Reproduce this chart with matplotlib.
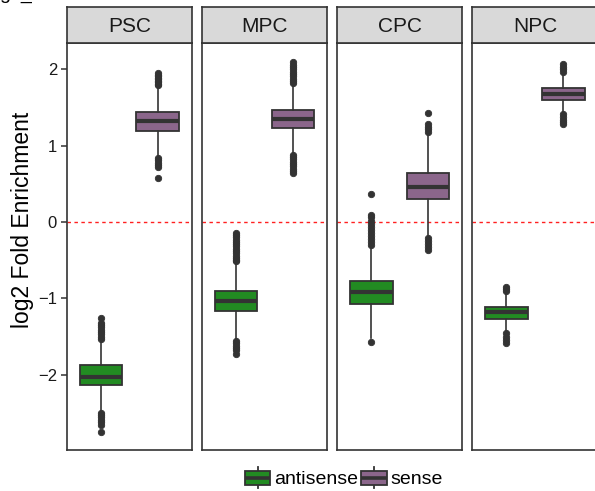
import matplotlib
matplotlib.use("Agg")
import matplotlib.pyplot as plt
from matplotlib.patches import Rectangle
from matplotlib.lines import Line2D
from matplotlib.legend_handler import HandlerBase

plt.rcParams['font.family'] = ['Liberation Sans', 'DejaVu Sans']

# ---------------- data ----------------
panels = ["PSC", "MPC", "CPC", "NPC"]
groups = ["antisense", "sense"]
group_colors = ["#228B22", "#8B668B"]

# box statistics per panel: [antisense, sense]
medians = [[-2.026, 1.324], [-1.029, 1.346], [-0.915, 0.457], [-1.180, 1.673]]
q1s     = [[-2.135, 1.193], [-1.168, 1.229], [-1.072, 0.300], [-1.264, 1.599]]
q3s     = [[-1.878, 1.438], [-0.907, 1.468], [-0.776, 0.640], [-1.111, 1.752]]
whis_lo = [[-2.480, 0.850], [-1.540, 0.900], [-1.516, -0.166], [-1.440, 1.430]]
whis_hi = [[-1.540, 1.780], [-0.530, 1.800], [-0.353, 1.128], [-0.930, 1.940]]

fliers = [
    [[-1.255, -1.32, -1.35, -1.38, -1.41, -1.44, -1.47, -1.50, -1.53,
      -2.497, -2.53, -2.56, -2.59, -2.62, -2.659, -2.745],
     [1.948, 1.93, 1.91, 1.89, 1.87, 1.85, 1.83, 1.81, 1.795,
      0.837, 0.81, 0.78, 0.75, 0.727, 0.575]],
    [[-0.144, -0.17, -0.20, -0.23, -0.26, -0.29, -0.32, -0.35, -0.38,
      -0.41, -0.44, -0.47, -0.50, -0.515,
      -1.56, -1.59, -1.62, -1.65, -1.68, -1.735],
     [2.10, 2.056, 2.03, 2.00, 1.97, 1.94, 1.91, 1.88, 1.85, 1.817,
      0.88, 0.85, 0.82, 0.79, 0.76, 0.73, 0.70, 0.67, 0.64]],
    [[0.37, 0.095, 0.06, 0.02, -0.02, -0.06, -0.10, -0.14, -0.18,
      -0.22, -0.26, -0.297, -1.574],
     [1.425, 1.285, 1.25, 1.22, 1.184,
      -0.209, -0.25, -0.29, -0.33, -0.371]],
    [[-0.85, -0.88, -0.907, -1.46, -1.50, -1.54, -1.58],
     [2.07, 2.03, 2.00, 1.96, 1.416, 1.38, 1.34, 1.31, 1.285]],
]

y_ticks = [-2, -1, 0, 1, 2]
y_label = "log2 Fold Enrichment"
ref_value = 0

# ---------------- figure ----------------
W, H = 595, 491
fig = plt.figure(figsize=(W / 100, H / 100), dpi=100)

edge = "#333333"
panel_left0 = 66.8
panel_w = 125.0
panel_step = 135.2
panel_top = 43.3
panel_bot = 450.0
strip_top = 7.3

ylim = (-2.987, 2.342)

for i, name in enumerate(panels):
    x0 = panel_left0 + i * panel_step
    ax = fig.add_axes([x0 / W, (H - panel_bot) / H, panel_w / W, (panel_bot - panel_top) / H])
    stats = []
    for j, g in enumerate(groups):
        stats.append(dict(med=medians[i][j], q1=q1s[i][j], q3=q3s[i][j],
                          whislo=whis_lo[i][j], whishi=whis_hi[i][j],
                          fliers=fliers[i][j], label=g))
    ax.axhline(ref_value, color="#FF2020", lw=1.0, ls=(0, (2.5, 2.5)), zorder=1)
    bp = ax.bxp(stats, positions=[1, 2], widths=0.75, patch_artist=True,
                showfliers=True,
                boxprops=dict(edgecolor=edge, linewidth=1.3),
                medianprops=dict(color=edge, linewidth=3.0, solid_capstyle='butt'),
                whiskerprops=dict(color=edge, linewidth=1.2),
                capprops=dict(linewidth=0),
                flierprops=dict(marker='o', markersize=4.6, markerfacecolor=edge,
                                markeredgecolor=edge, markeredgewidth=0.6, linestyle='none'),
                zorder=3)
    for patch, c in zip(bp['boxes'], group_colors):
        patch.set_facecolor(c)
    ax.set_xlim(0.4, 2.6)
    ax.set_ylim(*ylim)
    ax.set_xticks([])
    for s in ax.spines.values():
        s.set_color(edge)
        s.set_linewidth(1.2)
    if i == 0:
        ax.set_yticks(y_ticks)
        ax.set_yticklabels([str(v) if v >= 0 else "\u2212" + str(-v) for v in y_ticks])
        ax.tick_params(axis='y', length=4, width=1.1, color=edge, labelsize=12,
                       labelcolor="#1a1a1a", pad=3)
    else:
        ax.set_yticks([])

    # facet strip
    sax = fig.add_axes([x0 / W, (H - panel_top) / H, panel_w / W, (panel_top - strip_top) / H])
    sax.set_facecolor("#D9D9D9")
    sax.set_xticks([]); sax.set_yticks([])
    for s in sax.spines.values():
        s.set_color(edge)
        s.set_linewidth(1.2)
    sax.text(0.5, 0.47, name, ha='center', va='center', fontsize=15, color="#1a1a1a",
             transform=sax.transAxes)

# y-axis title (centred on the whole plot height, as in the reference)
fig.text(22.5 / W, (H - 220) / H, y_label, rotation=90, ha='center', va='center',
         fontsize=16.5, color="black")

# clipped title at the very top-left
fig.text(-0.002, 1 + 1.0 / H, "g2_S", fontsize=14, va='baseline', ha='left')


# ---------------- legend ----------------
class BoxHandler(HandlerBase):
    def create_artists(self, legend, orig_handle, xdescent, ydescent, width, height,
                       fontsize, trans):
        fc = orig_handle.get_facecolor()
        bh = height * 0.85
        y0 = -ydescent + (height - bh) / 2
        cx = -xdescent + width / 2
        ext = height * 0.22
        v = Line2D([cx, cx], [y0 - ext, y0 + bh + ext], color=edge, lw=1.3, transform=trans)
        r = Rectangle((-xdescent, y0), width, bh, facecolor=fc, edgecolor=edge,
                      lw=1.3, transform=trans)
        m = Line2D([-xdescent, -xdescent + width], [y0 + bh / 2, y0 + bh / 2], color=edge,
                   lw=2.6, solid_capstyle='butt', transform=trans)
        return [v, r, m]


handles = [Rectangle((0, 0), 1, 1, facecolor=c) for c in group_colors]
leg = fig.legend(handles, groups, loc='center', bbox_to_anchor=(344 / W, (H - 479) / H),
                 ncol=2, frameon=False, fontsize=14, handlelength=1.3, handleheight=0.9,
                 handletextpad=0.2, columnspacing=0.15, borderpad=0.1,
                 handler_map={Rectangle: BoxHandler()})

fig.savefig("out.png", dpi=100)
